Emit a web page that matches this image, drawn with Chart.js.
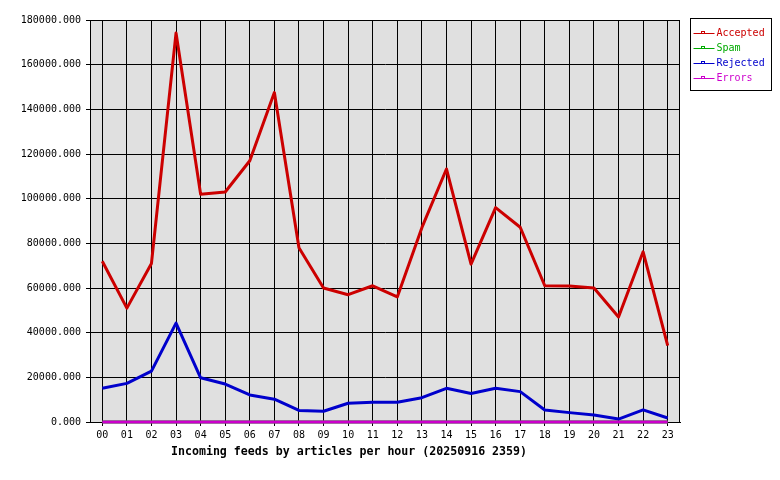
<!DOCTYPE html>
<html>
<head>
<meta charset="utf-8">
<style>
  html, body { margin: 0; padding: 0; background: #fff; }
  #wrap { width: 780px; height: 480px; }
</style>
<script src="https://cdn.jsdelivr.net/npm/chart.js@4/dist/chart.umd.min.js"></script>
</head>
<body>
<div id="wrap"><canvas id="feeds" width="780" height="480"></canvas></div>
<script>
// hours of the day
const hours = ["00","01","02","03","04","05","06","07","08","09","10","11",
               "12","13","14","15","16","17","18","19","20","21","22","23"];

// articles per hour
const accepted = [72000, 51000, 71000, 174200, 102000, 103000, 117000, 147500,
                  78000, 60000, 57000, 61000, 56000, 87000, 113300, 70700,
                  96000, 87200, 61000, 60900, 60000, 47000, 76200, 34200];
const spam     = [0, 0, 0, 0, 0, 0, 0, 0, 0, 0, 0, 0,
                  0, 0, 0, 0, 0, 0, 0, 0, 0, 0, 0, 0];
const rejected = [15100, 17300, 22800, 44300, 19800, 17000, 12100, 10200,
                  5200, 4800, 8400, 8800, 8800, 10900, 15100, 12800,
                  15100, 13600, 5400, 4200, 3100, 1300, 5400, 1800];
const errors   = [0, 0, 0, 0, 0, 0, 0, 0, 0, 0, 0, 0,
                  0, 0, 0, 0, 0, 0, 0, 0, 0, 0, 0, 0];

const yMax = 180000;
const yStep = 20000;
const xTitle = "Incoming feeds by articles per hour (20250916 2359)";

const mono = "'DejaVu Sans Mono', 'Liberation Mono', monospace";

// grey plot background + frame
const plotBack = {
  id: "plotBack",
  beforeDraw(chart) {
    const { ctx, chartArea: a } = chart;
    ctx.save();
    ctx.fillStyle = "#e0e0e0";
    ctx.fillRect(a.left, a.top, a.right - a.left, a.bottom - a.top);
    ctx.restore();
  },
  beforeDatasetsDraw(chart) {
    const { ctx, chartArea: a } = chart;
    ctx.save();
    ctx.strokeStyle = "#000";
    ctx.lineWidth = 1;
    ctx.strokeRect(a.left + 0.5, a.top + 0.5, a.right - a.left - 1, a.bottom - a.top);
    ctx.restore();
  }
};

// boxed legend on the right, and the axis caption
const boxLegend = {
  id: "boxLegend",
  afterDraw(chart) {
    const ctx = chart.ctx;
    const a = chart.chartArea;
    const x0 = a.right + 10.5, y0 = 18.5, w = 81, h = 72;
    ctx.save();
    ctx.fillStyle = "#fff";
    ctx.fillRect(x0, y0, w, h);
    ctx.strokeStyle = "#000";
    ctx.lineWidth = 1;
    ctx.strokeRect(x0, y0, w, h);
    ctx.font = "10px " + mono;
    ctx.textBaseline = "middle";
    ctx.textAlign = "left";
    chart.data.datasets.forEach((ds, i) => {
      const y = 33.5 + i * 15;
      ctx.strokeStyle = ds.borderColor;
      ctx.lineWidth = 1;
      ctx.beginPath();
      ctx.moveTo(x0 + 3, y);
      ctx.lineTo(x0 + 24, y);
      ctx.stroke();
      ctx.strokeRect(x0 + 11, y - 2, 3, 2);
      ctx.fillStyle = ds.borderColor;
      ctx.fillText(ds.label, x0 + 26, y);
    });
    ctx.fillStyle = "#000";
    ctx.font = "bold 11.6px " + mono;
    ctx.textAlign = "center";
    ctx.fillText(xTitle, 349, 452);
    ctx.restore();
  }
};

new Chart(document.getElementById("feeds"), {
  type: "line",
  data: {
    labels: hours,
    datasets: [
      { label: "Accepted", data: accepted, borderColor: "#cc0000", order: 3 },
      { label: "Spam", data: spam, borderColor: "#00aa00", order: 2 },
      { label: "Rejected", data: rejected, borderColor: "#0000cc", order: 1 },
      { label: "Errors", data: errors, borderColor: "#cc00cc", order: 0 }
    ]
  },
  options: {
    responsive: false,
    animation: false,
    layout: { padding: { top: 20, right: 100, left: 0, bottom: 0 } },
    datasets: { line: { clip: false } },
    elements: {
      line: { borderWidth: 3, tension: 0, borderJoinStyle: "round" },
      point: { radius: 0 }
    },
    plugins: {
      legend: { display: false },
      tooltip: { enabled: false }
    },
    scales: {
      x: {
        offset: true,
        grid: { color: "#000", lineWidth: 1, tickLength: 4, offset: false },
        border: { color: "#000" },
        ticks: { color: "#000", font: { family: mono, size: 10 }, padding: 3, maxRotation: 0 },
        afterFit(scale) { scale.height = 58; }
      },
      y: {
        min: 0,
        max: yMax,
        grid: { color: "#000", lineWidth: 1, tickLength: 4 },
        border: { color: "#000" },
        ticks: {
          stepSize: yStep,
          color: "#000",
          font: { family: mono, size: 10 },
          padding: 5,
          callback: (v) => v.toFixed(3)
        },
        afterFit(scale) { scale.width = 90; }
      }
    }
  },
  plugins: [plotBack, boxLegend]
});
</script>
</body>
</html>
